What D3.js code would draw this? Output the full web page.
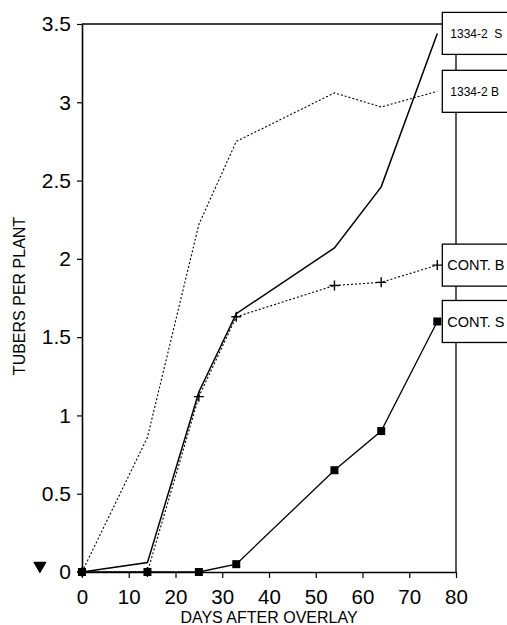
<!DOCTYPE html>
<html>
<head>
<meta charset="utf-8">
<script src="https://cdn.jsdelivr.net/npm/d3@7"></script>
<style>
  html, body { margin: 0; padding: 0; background: #fff; }
  svg { display: block; font-family: "Liberation Sans", Arial, sans-serif; }
</style>
</head>
<body>
<div id="chart"></div>
<script>
// days after overlay
const days = [0, 14, 25, 33, 54, 64, 76]
// tubers per plant
const s1334 = [0, 0.06, 1.15, 1.65, 2.07, 2.46, 3.44]
const b1334 = [0, 0.86, 2.22, 2.75, 3.06, 2.97, 3.07]
const contB = [0, 0, 1.12, 1.63, 1.83, 1.85, 1.96]
const contS = [0, 0, 0, 0.05, 0.65, 0.9, 1.6]

const seriesNames = ['1334-2  S', '1334-2 B', 'CONT. B', 'CONT. S']
const xTicks = [0, 10, 20, 30, 40, 50, 60, 70, 80]
const yTicks = [0, 0.5, 1, 1.5, 2, 2.5, 3, 3.5]
const xTitle = 'DAYS AFTER OVERLAY'
const yTitle = 'TUBERS PER PLANT'
// stray ink blot left of the axis in the scan
const blot = [{ day: -9, value: 0.04 }]

const width = 507, height = 625
const svg = d3.select('#chart').append('svg')
    .attr('width', width)
    .attr('height', height)

const x = d3.scaleLinear().domain([0, 80]).range([82, 456])
const y = d3.scaleLinear().domain([0, 3.5]).range([572, 24])

// frame: top and right
svg.append('line')
    .attr('x1', x(0)).attr('x2', x(80))
    .attr('y1', y(3.5)).attr('y2', y(3.5))
    .attr('stroke', '#000').attr('stroke-width', 1.3)
svg.append('line')
    .attr('x1', x(80)).attr('x2', x(80))
    .attr('y1', y(3.5)).attr('y2', y(0))
    .attr('stroke', '#000').attr('stroke-width', 1.3)

// y axis
const yAxis = svg.append('g')
    .attr('transform', `translate(${x(0)},0)`)
    .call(d3.axisLeft(y).tickValues(yTicks).tickSize(5).tickSizeOuter(0).tickPadding(6)
        .tickFormat(d => String(d)))
yAxis.select('.domain').attr('stroke-width', 1.6)
yAxis.selectAll('.tick line').attr('stroke-width', 1.2)
yAxis.selectAll('text')
    .attr('font-size', 21)
    .attr('font-family', '"Liberation Sans", Arial, sans-serif')
    .attr('fill', '#000')

// x axis
const xAxis = svg.append('g')
    .attr('transform', `translate(0,${y(0)})`)
    .call(d3.axisBottom(x).tickValues(xTicks).tickSize(6).tickSizeOuter(0).tickPadding(11))
xAxis.select('.domain').attr('stroke-width', 1.6)
xAxis.selectAll('.tick line').attr('stroke-width', 1.2)
xAxis.selectAll('text')
    .attr('font-size', 20.5)
    .attr('font-family', '"Liberation Sans", Arial, sans-serif')
    .attr('fill', '#000')

// axis titles
svg.append('text')
    .attr('x', (x(0) + x(80)) / 2)
    .attr('y', 623)
    .attr('text-anchor', 'middle')
    .attr('font-size', 16)
    .text(xTitle)

svg.append('text')
    .attr('transform', `translate(25,${y(1.75) - 2}) rotate(-90)`)
    .attr('text-anchor', 'middle')
    .attr('font-size', 16)
    .text(yTitle)

const line = d3.line()
    .x((d, i) => x(days[i]))
    .y(d => y(d))

// 1334-2 B dotted
svg.append('path')
    .datum(b1334)
    .attr('fill', 'none')
    .attr('stroke', '#000')
    .attr('stroke-width', 1.1)
    .attr('stroke-dasharray', '2,2')
    .attr('d', line)

// CONT. B dotted
svg.append('path')
    .datum(contB)
    .attr('fill', 'none')
    .attr('stroke', '#000')
    .attr('stroke-width', 1.1)
    .attr('stroke-dasharray', '2,2')
    .attr('d', line)

// 1334-2 S solid
svg.append('path')
    .datum(s1334)
    .attr('fill', 'none')
    .attr('stroke', '#000')
    .attr('stroke-width', 1.5)
    .attr('d', line)

// CONT. S solid
svg.append('path')
    .datum(contS)
    .attr('fill', 'none')
    .attr('stroke', '#000')
    .attr('stroke-width', 1.3)
    .attr('d', line)

// plus markers for CONT. B
svg.selectAll('.plus')
    .data(contB)
    .enter().append('path')
    .attr('class', 'plus')
    .attr('transform', (d, i) => `translate(${x(days[i])},${y(d)})`)
    .attr('d', 'M-5,0H5M0,-5V5')
    .attr('stroke', '#000')
    .attr('stroke-width', 1.4)

// square markers for CONT. S
svg.selectAll('.sq')
    .data(contS)
    .enter().append('rect')
    .attr('class', 'sq')
    .attr('x', (d, i) => x(days[i]) - 4)
    .attr('y', d => y(d) - 4)
    .attr('width', 8)
    .attr('height', 8)
    .attr('fill', '#000')

// ink blot
svg.selectAll('.blot')
    .data(blot)
    .enter().append('path')
    .attr('class', 'blot')
    .attr('transform', d => `translate(${x(d.day)},${y(d.value)}) rotate(180)`)
    .attr('d', d3.symbol(d3.symbolTriangle, 55))
    .attr('fill', '#000')
    .attr('stroke', '#000')
    .attr('stroke-width', 1.5)
    .attr('stroke-linejoin', 'round')

// label boxes at the end of each series
const lastVals = [s1334[6], b1334[6], contB[6], contS[6]]
const boxes = svg.selectAll('.lab')
    .data(seriesNames)
    .enter().append('g')
    .attr('class', 'lab')
    .attr('transform', (d, i) => `translate(${x(76) + 5},${y(lastVals[i])})`)

boxes.append('rect')
    .attr('x', 0)
    .attr('y', -21)
    .attr('width', 90)
    .attr('height', 42)
    .attr('fill', '#fff')
    .attr('stroke', '#000')
    .attr('stroke-width', 1.3)

boxes.append('text')
    .attr('x', (d, i) => i < 2 ? 8 : 5)
    .attr('dy', '0.36em')
    .attr('font-size', (d, i) => i < 2 ? 12 : 14.5)
    .attr('xml:space', 'preserve')
    .style('white-space', 'pre')
    .text(d => d)
</script>
</body>
</html>
